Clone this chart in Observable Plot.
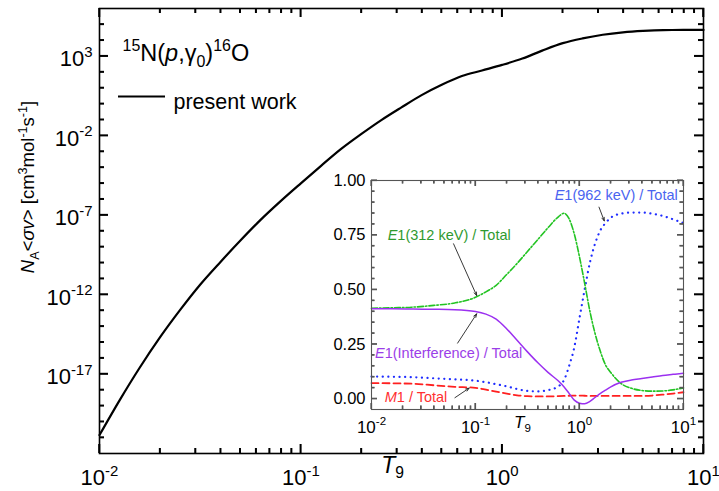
<!DOCTYPE html>
<html><head><meta charset="utf-8">
<script src="https://cdn.jsdelivr.net/npm/d3@7"></script>
<script src="https://cdn.jsdelivr.net/npm/@observablehq/plot@0.6"></script>
<style>
html,body{margin:0;padding:0;background:#fff;}
#wrap{position:relative;width:719px;height:491px;overflow:hidden;}
#main{position:absolute;left:0;top:0;}
#inset{position:absolute;left:320px;top:170px;}
</style></head><body><div id="wrap"><div id="main"></div><div id="inset"></div></div>
<script>
// ---------- data ----------
// Main panel: reaction rate N_A<sigma v> vs T9 (stored as log10 of the rate)
const t9Main = [0.01, 0.0126, 0.0158, 0.02, 0.0251, 0.0316, 0.0398, 0.0501, 0.0631, 0.0794,
  0.1, 0.126, 0.158, 0.2, 0.251, 0.316, 0.398, 0.501, 0.631, 0.794,
  1.0, 1.26, 1.58, 2.0, 2.51, 3.16, 3.98, 5.01, 6.31, 7.94, 10];
const log10Rate = [-20.84, -18.64, -16.62, -14.68, -12.98, -11.38, -9.96, -8.6, -7.3, -6.12,
  -5.0, -3.9, -2.85, -1.89, -1.02, -0.22, 0.55, 1.2, 1.75, 2.1,
  2.45, 2.85, 3.35, 3.82, 4.12, 4.35, 4.5, 4.59, 4.64, 4.65, 4.65];

// Inset: fractional contributions vs T9
const t9Inset = [0.01, 0.0158, 0.0251, 0.0398, 0.0631, 0.1, 0.126, 0.158, 0.2, 0.251,
  0.316, 0.398, 0.501, 0.631, 0.708, 0.794, 0.891, 1.0, 1.12, 1.26,
  1.41, 1.58, 1.78, 2.0, 2.51, 3.16, 3.98, 5.01, 6.31, 7.94, 10];
const e1_312 = [0.415, 0.417, 0.42, 0.428, 0.439, 0.465, 0.49, 0.52, 0.57, 0.62,
  0.675, 0.73, 0.785, 0.835, 0.85, 0.825, 0.755, 0.65, 0.53, 0.40,
  0.30, 0.22, 0.155, 0.12, 0.07, 0.048, 0.038, 0.035, 0.036, 0.041, 0.05];
const e1_962 = [0.102, 0.101, 0.099, 0.094, 0.089, 0.083, 0.076, 0.067, 0.057, 0.045,
  0.036, 0.034, 0.04, 0.058, 0.085, 0.15, 0.236, 0.37, 0.50, 0.625,
  0.71, 0.77, 0.805, 0.83, 0.848, 0.853, 0.853, 0.848, 0.838, 0.822, 0.805];
const e1_int = [0.412, 0.412, 0.411, 0.41, 0.408, 0.40, 0.388, 0.365, 0.32, 0.268,
  0.215, 0.165, 0.12, 0.08, 0.055, 0.025, -0.006, -0.02, -0.023, -0.012,
  0.006, 0.024, 0.04, 0.055, 0.076, 0.086, 0.093, 0.10, 0.107, 0.112, 0.117];
const m1 = [0.072, 0.071, 0.069, 0.062, 0.055, 0.05, 0.042, 0.033, 0.024, 0.016,
  0.012, 0.011, 0.011, 0.012, 0.013, 0.014, 0.015, 0.015, 0.014, 0.013,
  0.013, 0.013, 0.013, 0.013, 0.013, 0.013, 0.013, 0.015, 0.019, 0.024, 0.03];

// tick values
const xMajor = [0.01, 0.1, 1, 10];
const xMinor = [-2, -1, 0].flatMap(e => [2,3,4,5,6,7,8,9].map(m => m * 10 ** e));
const yMajorExp = [-17, -12, -7, -2, 3];
const yMinorExp = d3.range(-21, 6).filter(e => !yMajorExp.includes(e));
const insetYMajor = [0, 0.25, 0.5, 0.75, 1.0];
const insetYMinor = d3.range(1, 20).map(i => i * 0.05).filter(v => Math.abs(v / 0.25 - Math.round(v / 0.25)) > 1e-6);

// text
const titleText = "^{15}N(*p*,γ_{0})^{16}O";
const legendText = "present work";
const yLabelText = "*N*_{A}<*σv*> [cm^{3}mol^{-1}s^{-1}]";
const xLabelText = "*T*_{9}";

// inset annotations
const seriesColors = {e312: "#22c322", e962: "#1f2dff", eint: "#9b30f0", m1: "#ff2020"};
const labelColors = {e312: "#2f9a2f", e962: "#4a64f0", eint: "#9b3ee8", m1: "#ff3030"};
const annLabels = [
  {key: "e962", text: "*E*1(962 keV) / Total", t9: 8.8, v: 0.931, anchor: "end"},
  {key: "e312", text: "*E*1(312 keV) / Total", t9: 0.0143, v: 0.748, anchor: "start"},
  {key: "eint", text: "*E*1(Interference) / Total", t9: 0.0108, v: 0.206, anchor: "start"},
  {key: "m1", text: "*M*1 / Total", t9: 0.0134, v: 0.007, anchor: "start"}
];
const annArrows = [
  {x1: 1.54, y1: 0.878, x2: 1.73, y2: 0.815},
  {x1: 0.0615, y1: 0.71, x2: 0.1026, y2: 0.473},
  {x1: 0.0673, y1: 0.255, x2: 0.1026, y2: 0.389},
  {x1: 0.0634, y1: 0.005, x2: 0.0869, y2: 0.049}
];

// ---------- build ----------
const FONT = "'Liberation Sans', Arial, Helvetica, sans-serif";
const SVGNS = "http://www.w3.org/2000/svg";
const expFmt = d => "10^{" + Math.round(Math.log10(d)) + "}";

const mainData = t9Main.map((t, i) => ({t9: t, rate: 10 ** log10Rate[i]}));
const yMajor = yMajorExp.map(e => 10 ** e);
const yMinor = yMinorExp.map(e => 10 ** e);

const M = {w: 719, h: 491, l: 99, r: 16, t: 8, b: 38};
const mW = M.w - M.l - M.r, mH = M.h - M.t - M.b;

// inward-pointing tick marks on all four sides as Plot marks
function inwardTicks(xs, ys, len, plotW, plotH, opts) {
  return [
    Plot.tickX(xs, {x: d => d, insetTop: plotH - len, ...opts}),
    Plot.tickX(xs, {x: d => d, insetBottom: plotH - len, ...opts}),
    Plot.tickY(ys, {y: d => d, insetRight: plotW - len, ...opts}),
    Plot.tickY(ys, {y: d => d, insetLeft: plotW - len, ...opts})
  ];
}

const main = Plot.plot({
  width: M.w, height: M.h,
  marginLeft: M.l, marginRight: M.r, marginTop: M.t, marginBottom: M.b,
  style: {fontFamily: FONT, background: "transparent", color: "#000", overflow: "visible"},
  x: {type: "log", domain: [0.01, 10], label: null},
  y: {type: "log", domain: [1e-22, 1e6], label: null},
  marks: [
    Plot.line(mainData, {x: "t9", y: "rate", stroke: "#000", strokeWidth: 2.2, curve: "monotone-x"}),
    Plot.frame({stroke: "#000", strokeWidth: 1.6}),
    ...inwardTicks(xMinor, yMinor, 5, mW, mH, {stroke: "#000", strokeWidth: 1.5}),
    ...inwardTicks(xMajor, yMajor, 9, mW, mH, {stroke: "#000", strokeWidth: 1.5}),
    Plot.axisX(xMajor, {anchor: "bottom", tickSize: 0, tickPadding: 16, tickFormat: expFmt, fontSize: 22, label: null}),
    Plot.axisY(yMajor, {anchor: "left", tickSize: 0, tickPadding: 7, dy: 3, tickFormat: expFmt, fontSize: 22, label: null}),
    Plot.text([titleText], {text: d => d, frameAnchor: "top-left", dx: 23, dy: 36, fontSize: 23.5, textAnchor: "start"}),
    Plot.text([legendText], {text: d => d, frameAnchor: "top-left", dx: 74, dy: 85, fontSize: 21.5, textAnchor: "start"}),
    Plot.text([xLabelText], {text: d => d, frameAnchor: "bottom", dx: -9, dy: 19, fontSize: 23})
  ]
});
document.getElementById("main").appendChild(main);

// legend swatch
d3.select(main).append("line")
  .attr("x1", 118).attr("x2", 165).attr("y1", 96.5).attr("y2", 96.5)
  .attr("stroke", "#000").attr("stroke-width", 2.2);

// rotated y-axis title
d3.select(main).append("text")
  .attr("transform", "translate(28,187) rotate(-90)")
  .attr("text-anchor", "middle").attr("dy", "0.35em")
  .attr("font-size", 18.5).attr("font-family", FONT).attr("fill", "#000")
  .text(yLabelText);

// inset
const insetData = t9Inset.flatMap((t, i) => [
  {t9: t, v: e1_312[i], key: "e312"},
  {t9: t, v: e1_962[i], key: "e962"},
  {t9: t, v: e1_int[i], key: "eint"},
  {t9: t, v: m1[i], key: "m1"}
]);
const ser = k => insetData.filter(d => d.key === k);

const I = {w: 375, h: 270, l: 51, r: 12, t: 10, b: 31};
const iW = I.w - I.l - I.r, iH = I.h - I.t - I.b;

const inset = Plot.plot({
  width: I.w, height: I.h,
  marginLeft: I.l, marginRight: I.r, marginTop: I.t, marginBottom: I.b,
  style: {fontFamily: FONT, background: "transparent", color: "#000", overflow: "visible"},
  x: {type: "log", domain: [0.01, 10], label: null},
  y: {domain: [-0.049, 1.0], label: null},
  marks: [
    Plot.line(ser("m1"), {x: "t9", y: "v", stroke: seriesColors.m1, strokeWidth: 1.8, strokeDasharray: "7,4", curve: "monotone-x"}),
    Plot.line(ser("e962"), {x: "t9", y: "v", stroke: seriesColors.e962, strokeWidth: 2.2, strokeDasharray: "0.1,5.5", strokeLinecap: "round", curve: "monotone-x"}),
    Plot.line(ser("e312"), {x: "t9", y: "v", stroke: seriesColors.e312, strokeWidth: 1.6, strokeDasharray: "6,2,1.5,2", curve: "monotone-x"}),
    Plot.line(ser("eint"), {x: "t9", y: "v", stroke: seriesColors.eint, strokeWidth: 1.5, curve: "monotone-x"}),
    Plot.frame({stroke: "#555", strokeWidth: 1.1}),
    ...inwardTicks(xMinor, insetYMinor, 3.5, iW, iH, {stroke: "#555", strokeWidth: 1.2}),
    ...inwardTicks(xMajor, insetYMajor, 6, iW, iH, {stroke: "#555", strokeWidth: 1.2}),
    Plot.axisX(xMajor, {anchor: "bottom", tickSize: 0, tickPadding: 11, tickFormat: expFmt, fontSize: 17, label: null}),
    Plot.axisY(insetYMajor, {anchor: "left", tickSize: 0, tickPadding: 6, tickFormat: d3.format(".2f"), fontSize: 16.5, label: null}),
    Plot.arrow(annArrows, {x1: "x1", y1: "y1", x2: "x2", y2: "y2", stroke: "#222", strokeWidth: 0.9, headLength: 6, headAngle: 40}),
    Plot.text(annLabels.filter(d => d.anchor === "start"), {x: "t9", y: "v", text: "text", fill: d => labelColors[d.key], textAnchor: "start", fontSize: 14.5}),
    Plot.text(annLabels.filter(d => d.anchor === "end"), {x: "t9", y: "v", text: "text", fill: d => labelColors[d.key], textAnchor: "end", fontSize: 14.5}),
    Plot.text([xLabelText], {text: d => d, frameAnchor: "bottom", dx: -5, dy: 18, fontSize: 17})
  ]
});
document.getElementById("inset").appendChild(inset);

// ---------- rich text: ^{sup}, _{sub}, *italic* ----------
function parseMarkup(s) {
  const out = []; let it = false; let buf = ""; let i = 0;
  const push = (t, o = {}) => { if (t) out.push({t, it, ...o}); };
  while (i < s.length) {
    const c = s[i];
    if (c === "*") { push(buf); buf = ""; it = !it; i++; }
    else if ((c === "^" || c === "_") && s[i + 1] === "{") {
      push(buf); buf = "";
      const j = s.indexOf("}", i);
      push(s.slice(i + 2, j), c === "^" ? {sup: true} : {sub: true});
      i = j + 1;
    } else { buf += c; i++; }
  }
  push(buf);
  return out;
}
function richify(svg) {
  svg.querySelectorAll("text").forEach(t => {
    const s = t.textContent;
    if (!/[\^_*]/.test(s)) return;
    const fs = parseFloat(getComputedStyle(t).fontSize) || 16;
    const parts = parseMarkup(s);
    t.textContent = "";
    let shift = 0;
    for (const p of parts) {
      const ts = document.createElementNS(SVGNS, "tspan");
      const target = p.sup ? -0.42 * fs : p.sub ? 0.26 * fs : 0;
      if (target !== shift) ts.setAttribute("dy", (target - shift).toFixed(2));
      shift = target;
      if (p.sup || p.sub) ts.setAttribute("font-size", (0.68 * fs).toFixed(2));
      if (p.it) ts.setAttribute("font-style", "italic");
      ts.textContent = p.t;
      t.appendChild(ts);
    }
  });
}
richify(main);
richify(inset);

// ---------- extra copy of the inward ticks, placed with Plot's own scales ----------
function addTicks(svg, fallback, xs, ys, len, stroke, sw) {
  let fx, fy, xr, yr;
  try {
    const sx = svg.scale("x"), sy = svg.scale("y");
    fx = v => sx.apply(v); fy = v => sy.apply(v); xr = sx.range; yr = sy.range;
  } catch (e) {
    fx = fallback.x; fy = fallback.y; xr = fallback.x.range(); yr = fallback.y.range();
  }
  const xl = Math.min(...xr), xh = Math.max(...xr);
  const yt = Math.min(...yr), yb = Math.max(...yr);
  const seg = (x1, y1, x2, y2) => {
    const l = document.createElementNS(SVGNS, "line");
    l.setAttribute("x1", x1); l.setAttribute("y1", y1);
    l.setAttribute("x2", x2); l.setAttribute("y2", y2);
    l.setAttribute("stroke", stroke); l.setAttribute("stroke-width", sw);
    svg.appendChild(l);
  };
  for (const v of xs) {
    const x = fx(v);
    seg(x, yb, x, yb - len);
    seg(x, yt, x, yt + len);
  }
  for (const v of ys) {
    const y = fy(v);
    seg(xl, y, xl + len, y);
    seg(xh, y, xh - len, y);
  }
}
const mainFallback = {
  x: d3.scaleLog().domain([0.01, 10]).range([M.l, M.w - M.r]),
  y: d3.scaleLog().domain([1e-22, 1e6]).range([M.h - M.b, M.t])
};
const insetFallback = {
  x: d3.scaleLog().domain([0.01, 10]).range([I.l, I.w - I.r]),
  y: d3.scaleLinear().domain([-0.049, 1.0]).range([I.h - I.b, I.t])
};
addTicks(main, mainFallback, xMinor, yMinor, 5, "#000", 1.5);
addTicks(main, mainFallback, xMajor, yMajor, 9, "#000", 1.5);
addTicks(inset, insetFallback, xMinor, insetYMinor, 3.5, "#555", 1.2);
addTicks(inset, insetFallback, xMajor, insetYMajor, 6, "#555", 1.2);
</script></body></html>
